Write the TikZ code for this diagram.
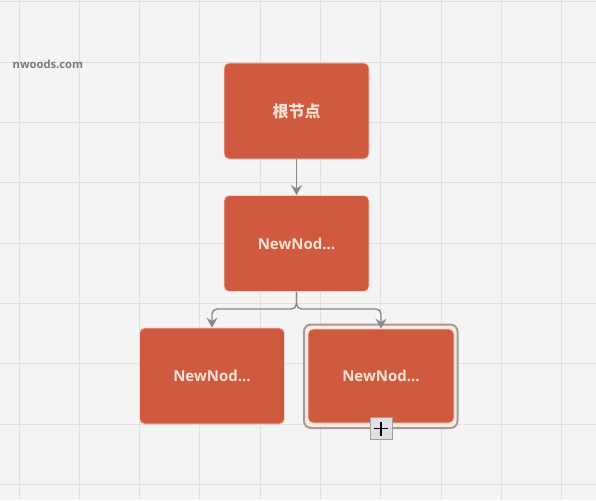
\documentclass[tikz,border=0pt]{standalone}
\usepackage{fontspec}
\setmainfont{Open Sans}
\newfontfamily\cjk{Noto Sans CJK SC}
\usetikzlibrary{arrows.meta,calc}
\definecolor{bgc}{HTML}{F4F4F4}
\definecolor{gridc}{HTML}{E0E0E2}
\definecolor{nodefill}{HTML}{D05A40}
\definecolor{nodetext}{HTML}{F8E2D6}
\definecolor{linkc}{HTML}{88888A}
\definecolor{halo}{HTML}{F6D2C4}
\definecolor{selc}{HTML}{A89896}
\begin{document}
\begin{tikzpicture}[x=1pt,y=-1pt,
  treenode/.style={fill=nodefill,draw=halo,line width=0.8pt,rounded corners=5pt,
    minimum width=145pt,minimum height=96pt,inner sep=0pt,
    font=\fontsize{15}{17}\selectfont\bfseries,text=nodetext},
  link/.style={draw=linkc,line width=1.4pt,rounded corners=5pt,
    -{Stealth[length=10pt,width=11pt,inset=3.5pt]}},
  plusbtn/.style={fill=gridc,draw=linkc!80,line width=0.8pt,minimum size=22pt,inner sep=0pt}]
\fill[bgc] (0,0) rectangle (596,500);
\useasboundingbox (0,0) rectangle (596,500);
\foreach \x in {19,79.3,139.6,199.9,260.2,320.5,380.8,441.1,501.4,561.7}
  \draw[gridc,line width=1pt] (\x,0) -- (\x,500);
\foreach \y in {2,62.3,122.6,182.9,243.2,303.5,363.8,424.1,484.4}
  \draw[gridc,line width=1pt] (0,\y) -- (596,\y);
\node[anchor=west,inner sep=0pt,text=linkc!90!black,font=\fontsize{11.2}{13}\selectfont\bfseries] (brand) at (12.5,64) {nwoods.com};
% selection outline of the right child
\draw[selc,fill=halo!45,line width=2pt,rounded corners=7pt] (304,324.5) rectangle (457.5,428);
\node[treenode] (root) at (296.5,111) {\fontsize{16}{18}\selectfont\cjk\bfseries 根节点};
\node[treenode] (mid) at (296.5,243.5) {NewNod...};
\node[treenode] (left) at (212,376) {NewNod...};
\node[treenode,minimum width=146pt,minimum height=94pt] (right) at (381,376) {NewNod...};
\node[plusbtn] (plus) at (381,428.5) {};
\draw[black,line width=1.2pt] ($(plus.center)+(-7,0)$) -- ($(plus.center)+(7,0)$);
\draw[black,line width=1.2pt] ($(plus.center)+(0,-7)$) -- ($(plus.center)+(0,7)$);
\coordinate (fork) at (296.5,309);
\draw[link] (root.south) -- (mid.north);
\draw[link] (mid.south) -- (fork) -| (left.north);
\draw[link] (mid.south) -- (fork) -| (right.north);
\end{tikzpicture}
\end{document}
